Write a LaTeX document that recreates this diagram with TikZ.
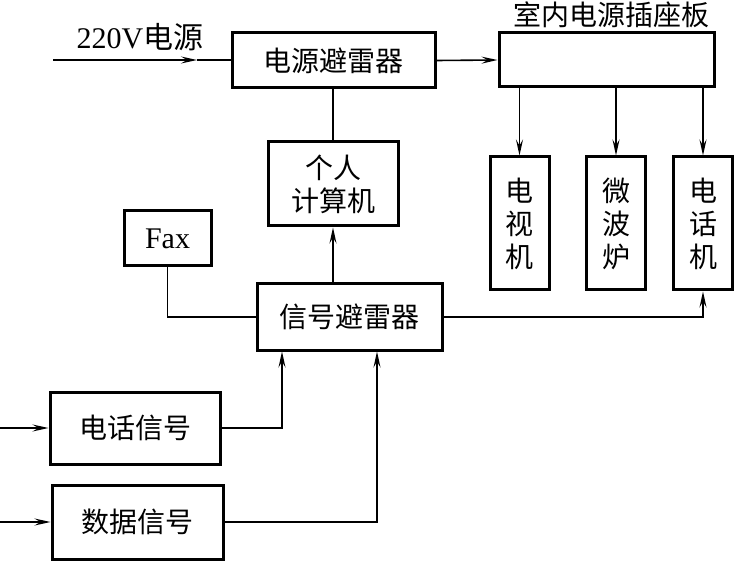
\documentclass[tikz,border=0pt]{standalone}
\usepackage{fontspec}
\setmainfont{Liberation Serif}
\newfontfamily\cjk{Noto Sans CJK SC}
\usetikzlibrary{arrows.meta,positioning,calc}

\begin{document}
\begin{tikzpicture}[x=1pt,y=-1pt,
    box/.style={draw, line width=3pt, inner sep=0pt, align=center,
      font=\fontsize{28}{33}\selectfont\cjk},
    conn/.style={line width=1.6pt},
    >={Stealth[length=16pt,width=7pt,inset=6pt]}]
  \useasboundingbox (0,0) rectangle (734,564);
  % mains side
  \node[box, minimum width=203pt, minimum height=55pt] (psp) at (333.5,60.5) {电源避雷器};
  \node[box, minimum width=215pt, minimum height=54pt] (strip) at (606.5,60) {};
  \node[font=\fontsize{28}{33}\selectfont\cjk] (stripttl) at (611,15) {室内电源插座板};
  \coordinate (mainsin) at (53,60);
  \coordinate (mainstip) at (197,60);
  \node[font=\fontsize{30}{34}\selectfont] (mainslbl) at (140,37) {220V{\cjk 电源}};
  \draw[conn,->] (mainsin) -- (mainstip);
  \draw[conn] (mainstip) -- (psp.west |- mainstip);
  \draw[conn,->] (psp.east) -- (strip.west);
  \foreach \nm/\cx/\ttl in {tv/519.5/{电\\视\\机}, oven/616/{微\\波\\炉}, phone/703/{电\\话\\机}}{
    \node[box, minimum width=59pt, minimum height=133pt] (\nm) at (\cx,223.5) {\ttl};
    \draw[conn,->] (\nm.north |- strip.south) -- (\nm.north);
  }
  % signal side
  \node[box, minimum width=130pt, minimum height=84pt] (pc) at (333,184) {个人\\计算机};
  \node[box, minimum width=87pt, minimum height=55pt, font=\fontsize{30}{34}\selectfont] (fax) at (167.5,238.5) {Fax};
  \node[box, minimum width=185pt, minimum height=66pt] (ssp) at (349.5,317) {信号避雷器};
  \node[box, minimum width=170pt, minimum height=72pt] (telsig) at (135,428) {电话信号};
  \node[box, minimum width=171pt, minimum height=74pt] (datasig) at (137.5,522) {数据信号};
  \coordinate (telin) at (0,428);
  \coordinate (datain) at (0,522);
  \draw[conn] (pc.north |- psp.south) -- (pc.north);
  \draw[conn,->] (pc.south |- ssp.north) -- (pc.south);
  \draw[conn] (fax.south) |- (ssp.west);
  \draw[conn,->] (ssp.east) -| (phone.south);
  \draw[conn,->] (telin) -- (telsig.west);
  \draw[conn,->] (datain) -- (datasig.west);
  \draw[conn,->] (telsig.east) -| ([xshift=-67.5pt]ssp.south);
  \draw[conn,->] (datasig.east) -| ([xshift=27.5pt]ssp.south);
\end{tikzpicture}
\end{document}
